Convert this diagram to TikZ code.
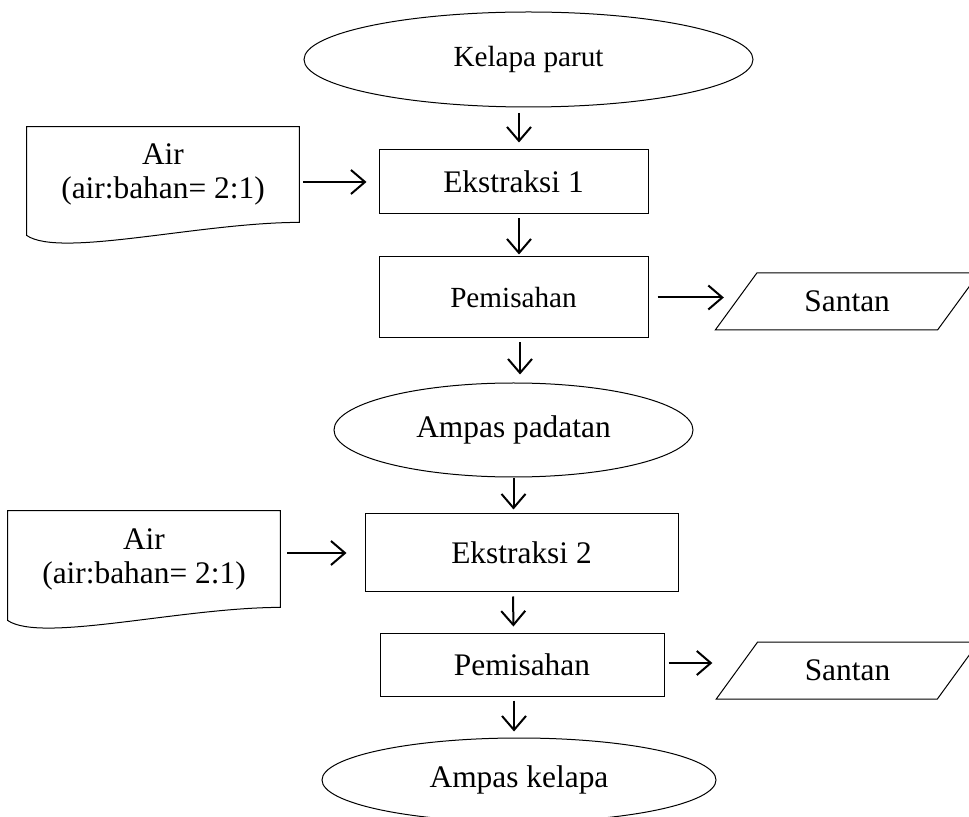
\documentclass[tikz,border=0pt]{standalone}
\usepackage{fontspec}
\setmainfont{Liberation Serif}
\usetikzlibrary{arrows.meta, shapes.geometric}
\tikzset {
  proses/.style = {draw, rectangle, line width=0.5pt, inner sep=0pt, text centered},
  terminal/.style = {draw, ellipse, line width=0.5pt, inner sep=0pt, text centered},
  hasil/.style = {draw, trapezium, trapezium left angle=47, trapezium right angle=133, trapezium stretches, line width=0.5pt, inner sep=0pt},
  bahan/.style = {rectangle, inner sep=0pt, align=center, minimum width=136pt},
  line/.style = {-{Straight Barb[length=7pt, width=12pt]}, line width=1pt, color=black, shorten <=2pt, shorten >=3pt},
  kecil/.style = {font=\fontsize{14.6}{17}\selectfont}
}

\begin{document}
\begin{tikzpicture}[x=0.5pt, y=-0.5pt, font=\fontsize{15.7}{17}\selectfont]
    \useasboundingbox (0,0) rectangle (969,817);
    \clip (0,0) rectangle (969,817);

    \node[terminal, kecil, minimum width=224.5pt, minimum height=47.5pt] (parut) at (528.5,59.5) {Kelapa parut};
    \node[proses, minimum width=134.5pt, minimum height=32pt] (ekstraksi1) at (513.5,182) {Ekstraksi 1};
    \node[bahan, minimum height=47.5pt] (air1) at (163,174.5) {Air\\(air:bahan= 2:1)};
    \node[proses, kecil, minimum width=134.5pt, minimum height=40.5pt] (pemisahan1) at (513.5,297.5) {Pemisahan};
    \node[hasil, minimum width=132.2pt, minimum height=28.5pt] (santan1) at (847.2,301.5) {Santan};
    \node[terminal, minimum width=179.5pt, minimum height=47pt] (padatan) at (513.5,430) {Ampas padatan};
    \node[proses, minimum width=156.5pt, minimum height=39pt] (ekstraksi2) at (521.5,553) {Ekstraksi 2};
    \node[bahan, minimum height=48pt] (air2) at (144,559) {Air\\(air:bahan= 2:1)};
    \node[proses, minimum width=142pt, minimum height=31.5pt] (pemisahan2) at (522,664.5) {Pemisahan};
    \node[hasil, minimum width=131.5pt, minimum height=28.5pt] (santan2) at (847.5,670.5) {Santan};
    \node[terminal, minimum width=197pt, minimum height=42pt] (ampas) at (519,780) {Ampas kelapa};

    % lembar dokumen dengan tepi bawah bergelombang
    \foreach \n in {air1, air2}
        \draw[line width=0.5pt] (\n.north west) -- ([yshift=-6.5pt]\n.south west)
            .. controls +(16.5pt,-11.5pt) and +(-49.5pt,0pt) .. (\n.south east)
            -- (\n.north east) -- cycle;

    \draw[line, shorten <=2.75pt, shorten >=3.5pt] ([xshift=2.75pt]ekstraksi1.north |- parut.south) -- ([xshift=2.75pt]ekstraksi1.north);
    \draw[line, shorten >=1pt] ([xshift=2.75pt]ekstraksi1.south) -- ([xshift=2.75pt]pemisahan1.north);
    \draw[line, shorten >=4pt] ([xshift=3.25pt]pemisahan1.south) -- ([xshift=3.25pt]pemisahan1.south |- padatan.north);
    \draw[line, shorten <=0.5pt, shorten >=2pt] (padatan.south) -- (padatan.south |- ekstraksi2.north);
    \draw[line] ([xshift=-4.25pt]ekstraksi2.south) -- ([xshift=-4.25pt]pemisahan2.north);
    \draw[line] ([xshift=-4pt]pemisahan2.south) -- ([xshift=-4pt]pemisahan2.south |- ampas.north);

    \draw[line, shorten >=6pt] (air1.east |- ekstraksi1.west) -- (ekstraksi1.west);
    \draw[line, shorten <=3.5pt, shorten >=9pt] (air2.east |- ekstraksi2.west) -- (ekstraksi2.west);
    \draw[line, shorten <=4.5pt, shorten >=5.8pt] (pemisahan1.east) -- (pemisahan1.east -| santan1.west);
    \draw[line, shorten >=12pt] ([yshift=0.75pt]pemisahan2.east) -- ([yshift=0.75pt]pemisahan2.east -| santan2.west);

\end{tikzpicture}
\end{document}
